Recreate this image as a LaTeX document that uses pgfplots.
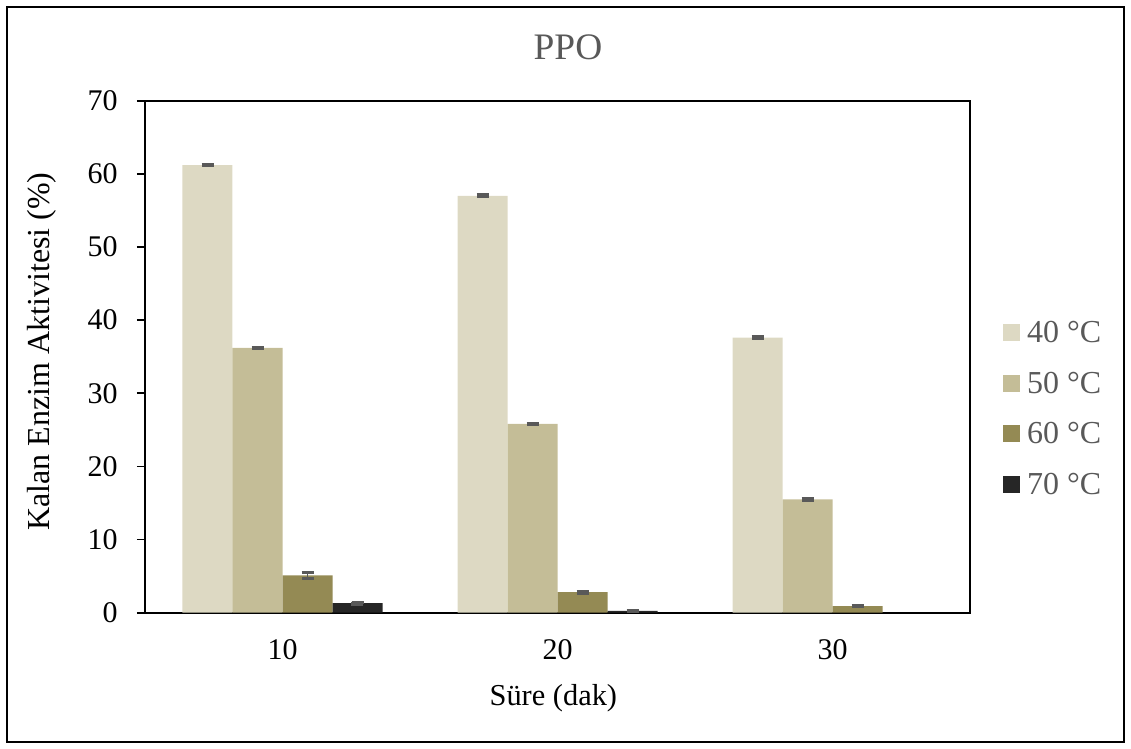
\documentclass[border=0pt]{standalone}
\usepackage{fontspec}
\setmainfont{Liberation Serif}
\usepackage{pgfplots}
\pgfplotsset{compat=1.18}
\definecolor{c40}{HTML}{DDD9C3}
\definecolor{c50}{HTML}{C4BD97}
\definecolor{c60}{HTML}{948A54}
\definecolor{c70}{HTML}{262626}
\definecolor{gtxt}{HTML}{595959}
\pgfplotsset{myerr/.style={
  error bars/y dir=both, error bars/y explicit,
  error bars/error bar style={gtxt, line width=0.9pt},
  error bars/error mark options={rotate=90, mark size=3pt, line width=1.6pt, gtxt}}}
\begin{document}
\begin{tikzpicture}
\path (0,0) rectangle (565.5pt,374.5pt);
\draw[line width=0.75pt] (3.5pt,3.5pt) rectangle (562pt,371pt);
\node[text=gtxt, font=\fontsize{18.7}{22}\selectfont, inner sep=0pt] at (284pt,351pt) {PPO};
\begin{axis}[
  at={(72.5pt,68.15pt)}, anchor=south west,
  scale only axis, width=412.5pt, height=256pt,
  ymin=0, ymax=70, xmin=-0.5, xmax=2.5,
  xtick={0,1,2}, xticklabels={10,20,30},
  ytick={0,10,...,70},
  ytick pos=left,
  ybar=0pt, bar width=25pt,
  axis line style={line width=0.9pt},
  tick align=outside,
  major x tick style={draw=none},
  major y tick style={line width=0.9pt, black},
  major tick length=4pt,
  /pgf/number format/assume math mode=true,
  tick label style={font=\fontsize{15}{18}\selectfont, black},
  xticklabel style={anchor=center, yshift=-14.6pt},
  yticklabel style={anchor=east, inner sep=0pt, xshift=-9.5pt},
  xlabel={Süre (dak)},
  xlabel style={font=\fontsize{15.2}{18}\selectfont, at={(axis description cs:0.495,0)}, anchor=center, yshift=-42.5pt},
  ylabel={Kalan Enzim Aktivitesi (\%)},
  ylabel style={font=\fontsize{16}{19}\selectfont, at={(axis description cs:-0.125,0.51)}, anchor=center},
  legend style={at={(axis description cs:1.04,0.40)}, anchor=west, draw=none, fill=none, inner sep=0pt,
    font=\fontsize{16}{19}\selectfont, text=gtxt,
    nodes={inner sep=0pt, text height=10.6pt, text depth=0pt},
    /tikz/row sep=14.65pt, /tikz/column sep=3.5pt},
  legend cell align=left,
  legend image code/.code={\fill[#1] (0pt,-4.5pt) rectangle (8.4pt,3.9pt);},
]
\addplot[fill=c40, draw=none, myerr] coordinates {(0,61.2) +- (0,0.1) (1,57.0) +- (0,0.1) (2,37.6) +- (0,0.1)};
\addplot[fill=c50, draw=none, myerr] coordinates {(0,36.2) +- (0,0.1) (1,25.8) +- (0,0.1) (2,15.5) +- (0,0.1)};
\addplot[fill=c60, draw=none, myerr] coordinates {(0,5.1) +- (0,0.45) (1,2.8) +- (0,0.12) (2,0.9) +- (0,0.08)};
\addplot[fill=c70, draw=none, myerr] coordinates {(0,1.3) +- (0,0.1) (1,0.25) +- (0,0.08)};
\legend{40 °C, 50 °C, 60 °C, 70 °C}
\end{axis}
\end{tikzpicture}
\end{document}
